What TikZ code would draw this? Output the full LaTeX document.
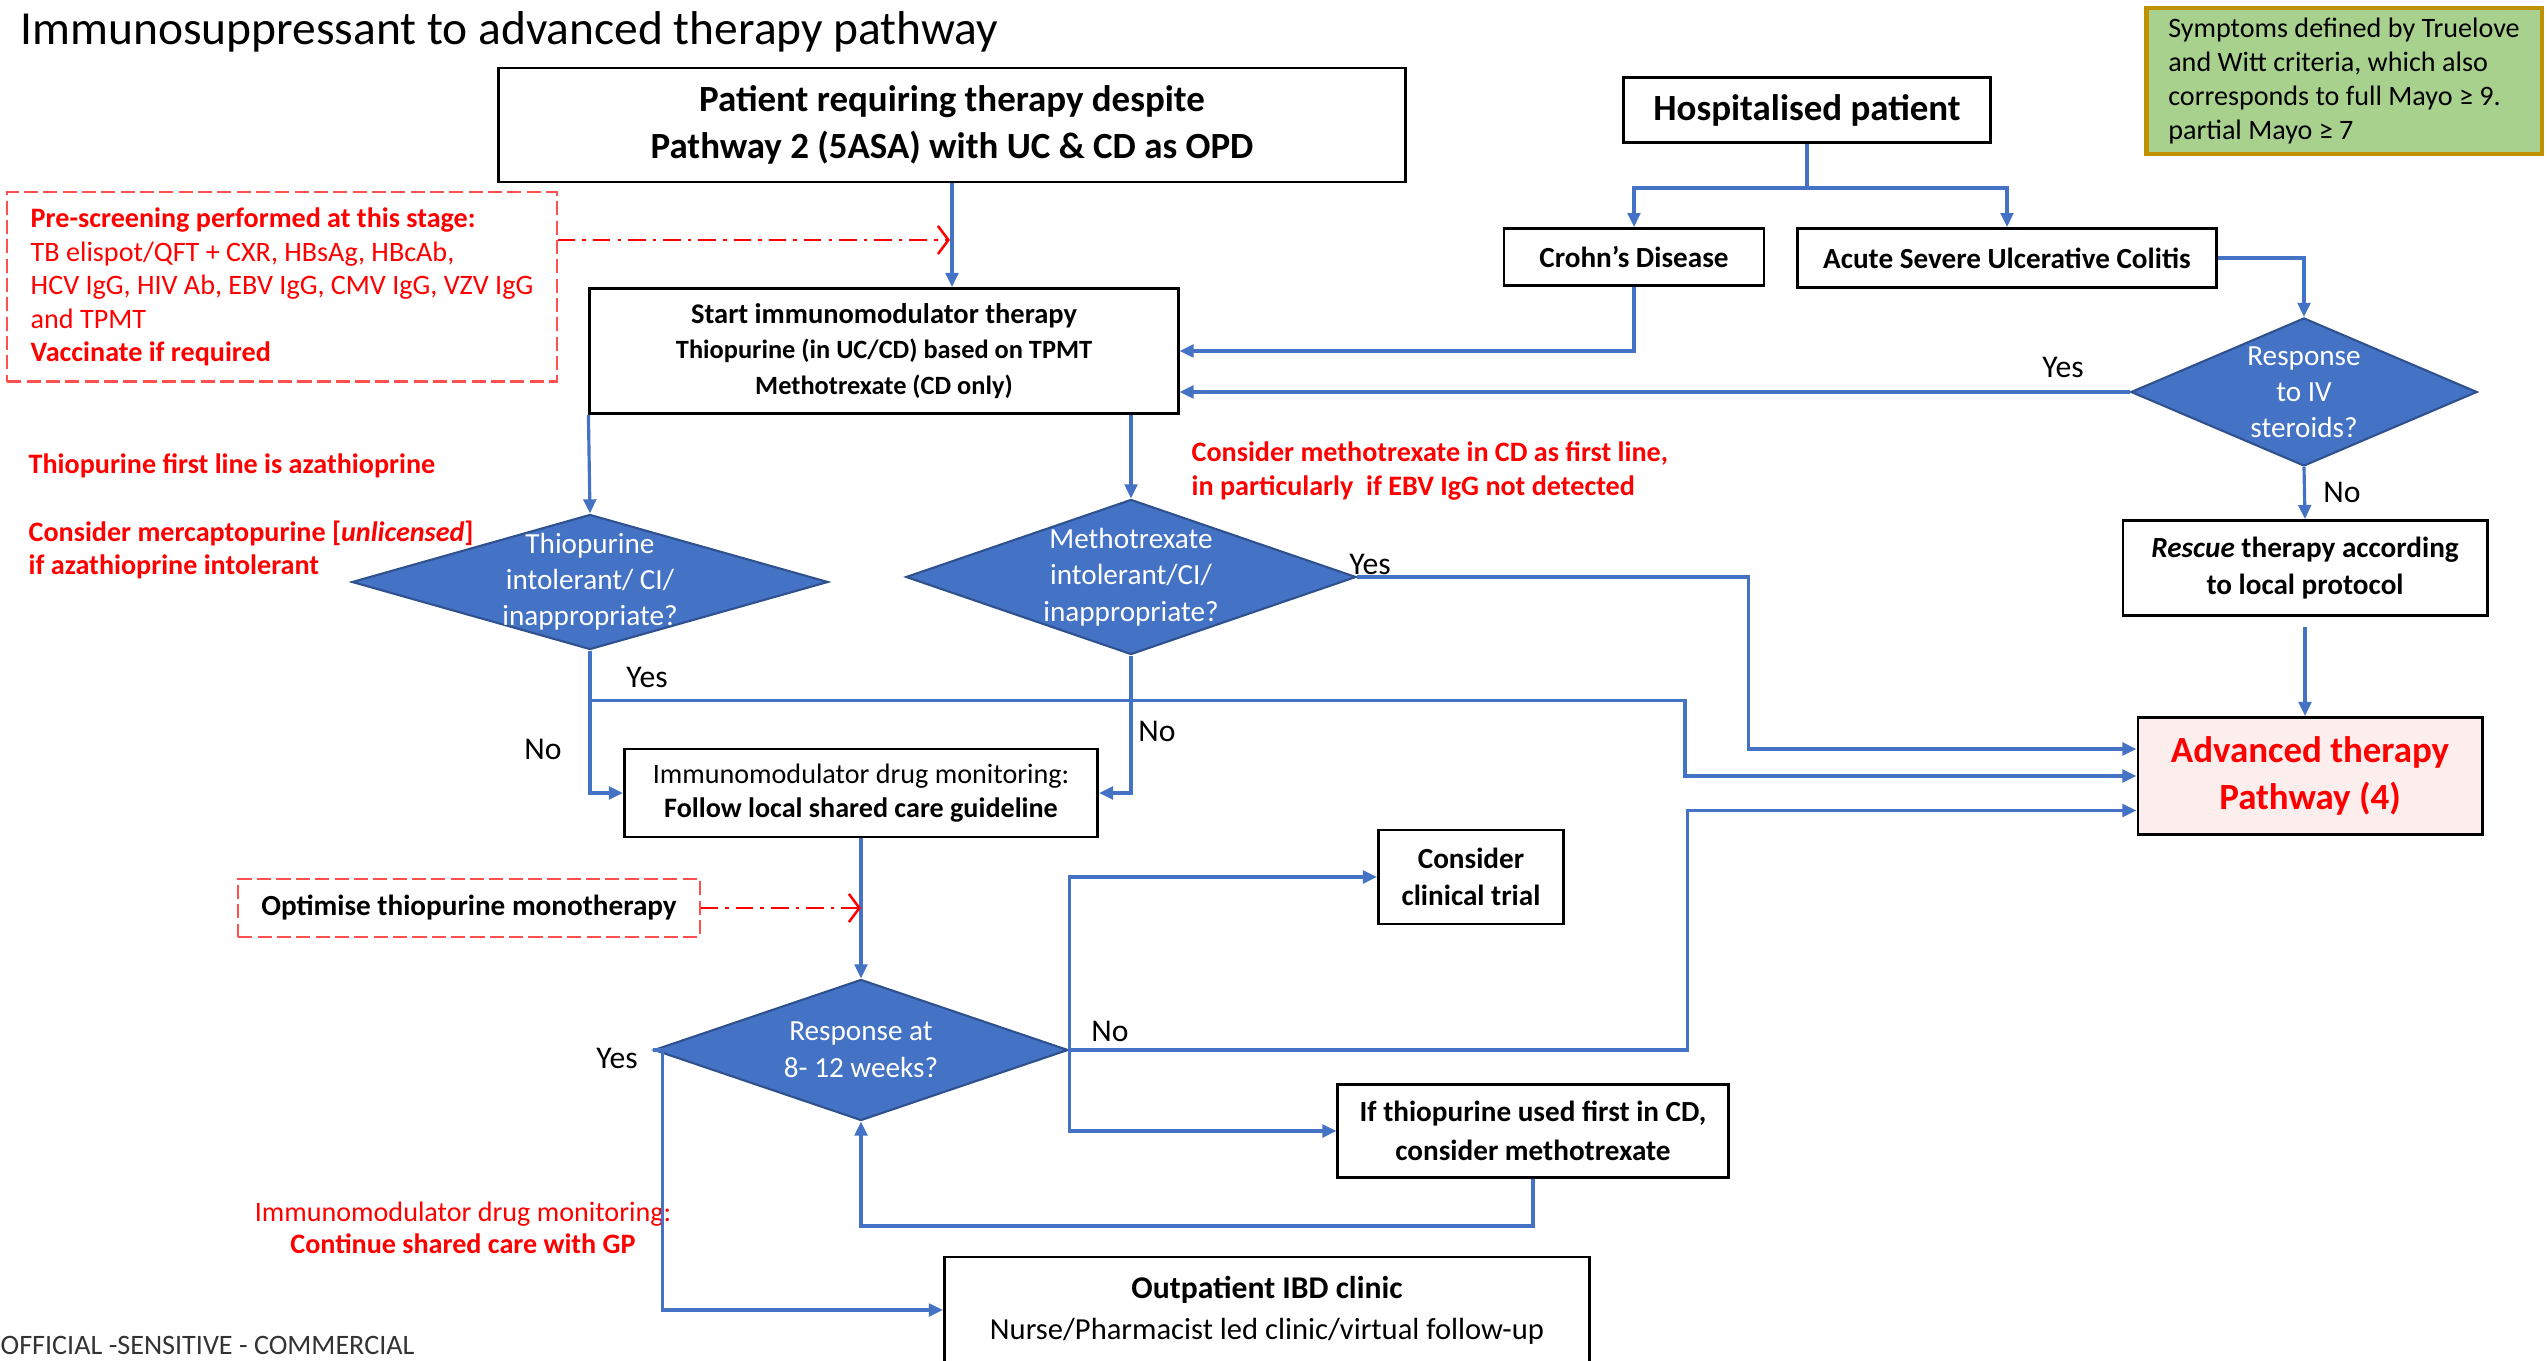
\documentclass[tikz,border=0pt]{standalone}
\usepackage{fontspec}
\setmainfont{Carlito}
\usetikzlibrary{arrows.meta,positioning,shapes.geometric}
\definecolor{flowblue}{HTML}{4472C4}
\definecolor{diaedge}{HTML}{2F528F}
\definecolor{notered}{HTML}{FF0000}
\definecolor{dashred}{HTML}{FF5050}
\definecolor{softgreen}{HTML}{A9D18E}
\definecolor{goldedge}{HTML}{BF9000}
\definecolor{softpink}{HTML}{FDEEEE}
\newcommand{\fsz}[2]{\fontsize{#1}{#2}\selectfont}

\begin{document}
\begin{tikzpicture}[x=0.01cm, y=-0.01cm, >={Triangle[length=4pt,width=3.6pt]},
  every node/.style={align=center, inner sep=0pt},
  box/.style={draw, line width=0.8pt, fill=white},
  dashbox/.style={draw=dashred, line width=0.6pt, dash pattern=on 4pt off 1.5pt},
  dia/.style={diamond, draw=diaedge, line width=0.6pt, fill=flowblue, inner sep=0pt},
  diatext/.style={text=white, font=\fsz{8.3}{10.3}},
  conn/.style={draw=flowblue, line width=0.9pt},
  dasharrow/.style={draw=notered, line width=0.7pt, dash pattern=on 5pt off 2pt on 1pt off 2pt, -{Straight Barb[length=3pt,width=8pt]}},
  note/.style={text=notered, font=\fsz{8}{9.5}\bfseries, align=left},
  lbl/.style={font=\fsz{9}{11}}]
\useasboundingbox (0,0) rectangle (2547,1361);

% title and side notes
\node[anchor=west, font=\fsz{13.5}{16}] (title) at (20,32) {Immunosuppressant to advanced therapy pathway};
\node[draw=goldedge, line width=1.2pt, fill=softgreen, minimum width=3.95cm, minimum height=1.46cm, align=left, font=\fsz{8}{9.6}] (criteria) at (2344,81) {Symptoms defined by Truelove\\and Witt criteria, which also\\corresponds to full Mayo ≥ 9.\\partial Mayo ≥ 7};
\node[dashbox, minimum width=5.49cm, minimum height=1.89cm, align=left, text=notered, font=\fsz{8}{9.5}] (prescreen) at (282,287) {\textbf{Pre-screening performed at this stage:}\\TB elispot/QFT + CXR, HBsAg, HBcAb,\\HCV IgG, HIV Ab, EBV IgG, CMV IgG, VZV IgG\\and TPMT\\\textbf{Vaccinate if required}};
\node[note, anchor=west] (azanote) at (28,466) {Thiopurine first line is azathioprine};
\node[note, anchor=west] (mpnote) at (28,550) {Consider mercaptopurine [\textit{unlicensed}]\\if azathioprine intolerant};
\node[note, anchor=west] (mtxnote) at (1191,471) {Consider methotrexate in CD as first line,\\in particularly\ \ if EBV IgG not detected};
\node[text=notered, font=\fsz{8}{9.1}] (gpnote) at (463,1228) {Immunomodulator drug monitoring:\\\textbf{Continue shared care with GP}};
\node[anchor=west, font=\fsz{8}{10}, text=black!80] (footer) at (0,1345) {OFFICIAL -SENSITIVE - COMMERCIAL};

% main boxes
\node[box, minimum width=9.06cm, minimum height=1.14cm, font=\fsz{10.5}{13.4}\bfseries] (patient) at (952,125) {Patient requiring therapy despite\\Pathway 2 (5ASA) with UC \& CD as OPD};
\node[box, minimum width=3.66cm, minimum height=0.65cm, font=\fsz{10.5}{13}\bfseries] (hosp) at (1807,110) {Hospitalised patient};
\node[box, minimum width=5.88cm, minimum height=1.25cm, font=\fsz{7.5}{10.1}\bfseries] (start) at (884,351) {{\fsz{8.1}{10.1}Start immunomodulator therapy}\\Thiopurine (in UC/CD) based on TPMT\\Methotrexate (CD only)};
\node[box, minimum width=2.60cm, minimum height=0.57cm, font=\fsz{8.3}{10}\bfseries] (crohn) at (1634,257) {Crohn’s Disease};
\node[box, minimum width=4.19cm, minimum height=0.59cm, font=\fsz{8.3}{10}\bfseries] (asuc) at (2007,258) {Acute Severe Ulcerative Colitis};
\node[dia, minimum width=3.46cm, minimum height=1.48cm, label={[diatext]center:Response\\to IV\\steroids?}] (ivresp) at (2304,392) {};
\node[box, minimum width=3.64cm, minimum height=0.95cm, font=\fsz{8.3}{10.5}\bfseries] (rescue) at (2305,568) {\textit{Rescue} therapy according\\to local protocol};
\node[box, fill=softpink, minimum width=3.44cm, minimum height=1.17cm, text=notered, font=\fsz{10.5}{13.4}\bfseries] (adv) at (2310,776) {Advanced therapy\\Pathway (4)};
\node[dia, minimum width=4.76cm, minimum height=1.35cm, label={[diatext]center:Thiopurine\\intolerant/ CI/\\inappropriate?}] (thio) at (590,582) {};
\node[dia, minimum width=4.50cm, minimum height=1.55cm, label={[diatext]center:Methotrexate\\intolerant/CI/\\inappropriate?}] (mtx) at (1131,577) {};
\node[box, minimum width=4.73cm, minimum height=0.88cm, font=\fsz{8}{9.7}] (monit) at (861,793) {Immunomodulator drug monitoring:\\\textbf{Follow local shared care guideline}};
\node[dashbox, minimum width=4.61cm, minimum height=0.58cm, font=\fsz{8.3}{10}\bfseries] (optim) at (469,908) {Optimise thiopurine monotherapy};
\node[dia, minimum width=4.14cm, minimum height=1.41cm, label={[diatext, font=\fsz{8.3}{10.6}]center:Response at\\8- 12 weeks?}] (resp) at (861,1050) {};
\node[box, minimum width=1.85cm, minimum height=0.94cm, font=\fsz{8.3}{10.5}\bfseries] (trial) at (1471,877) {Consider\\clinical trial};
\node[box, minimum width=3.90cm, minimum height=0.93cm, font=\fsz{8.3}{11}\bfseries] (mtxswitch) at (1533,1131) {If thiopurine used first in CD,\\consider methotrexate};
\node[box, minimum width=6.45cm, minimum height=1.06cm, font=\fsz{8.7}{11.7}] (clinic) at (1267,1310) {\textbf{\fsz{9}{11.7}Outpatient IBD clinic}\\Nurse/Pharmacist led clinic/virtual follow-up};

% yes / no
\node[lbl] (yesIV) at (2063,367) {Yes};
\node[lbl] (noIV) at (2342,492) {No};
\node[lbl] (yesMtx) at (1370,564) {Yes};
\node[lbl] (yesThio) at (647,677) {Yes};
\node[lbl] (noThio) at (543,749) {No};
\node[lbl] (noMtx) at (1157,731) {No};
\node[lbl] (noResp) at (1110,1031) {No};
\node[lbl] (yesResp) at (617,1058) {Yes};

% connectors
\coordinate (screenArr) at (950,240);
\draw[dasharrow] (prescreen.east |- screenArr) -- (screenArr);
\draw[conn,->] (patient.south) -- (patient.south |- start.north);
\draw[conn] (hosp.south) -- ++(0,44) coordinate (split);
\draw[conn,->] (split) -| (crohn.north);
\draw[conn,->] (split) -| (asuc.north);
\draw[conn,->] (crohn.south) |- (start.east);
\draw[conn,->] (asuc.east) -| (ivresp.north);
\draw[conn,->] (ivresp.west) -- (ivresp.west -| start.east);
\draw[conn,->] (ivresp.south) -- (rescue.north);
\draw[conn,->, shorten <=0.1cm] (rescue.south) -- (rescue.south |- adv.north);
\draw[conn,->] (start.south west) -- (thio.north);
\draw[conn,->] (mtx.north |- start.south) -- (mtx.north);
\draw[conn,->] (thio.south) |- (monit.west);
\draw[conn,->] (thio.south) ++(0,50) -- ++(1095,0) |- (adv.west);
\draw[conn,->] (mtx.east) -- ++(391,0) |- ([yshift=0.27cm]adv.west);
\draw[conn,->] (mtx.south) |- (monit.east);
\draw[conn,->] (monit.south) -- (monit.south |- resp.north);
\draw[dasharrow] (optim.east) -- (optim.east -| resp.north);
\draw[conn,->] (resp.east) |- (trial.west);
\draw[conn,->] (resp.east) -- ++(618,0) |- ([yshift=-0.345cm]adv.west);
\draw[conn,->] (resp.east) |- (mtxswitch.west);
\draw[conn,->] (mtxswitch.south) -- ++(0,47) -| (resp.south);
\draw[conn,->] (resp.west) -- ++(10,0) |- (clinic.west);
\end{tikzpicture}
\end{document}
